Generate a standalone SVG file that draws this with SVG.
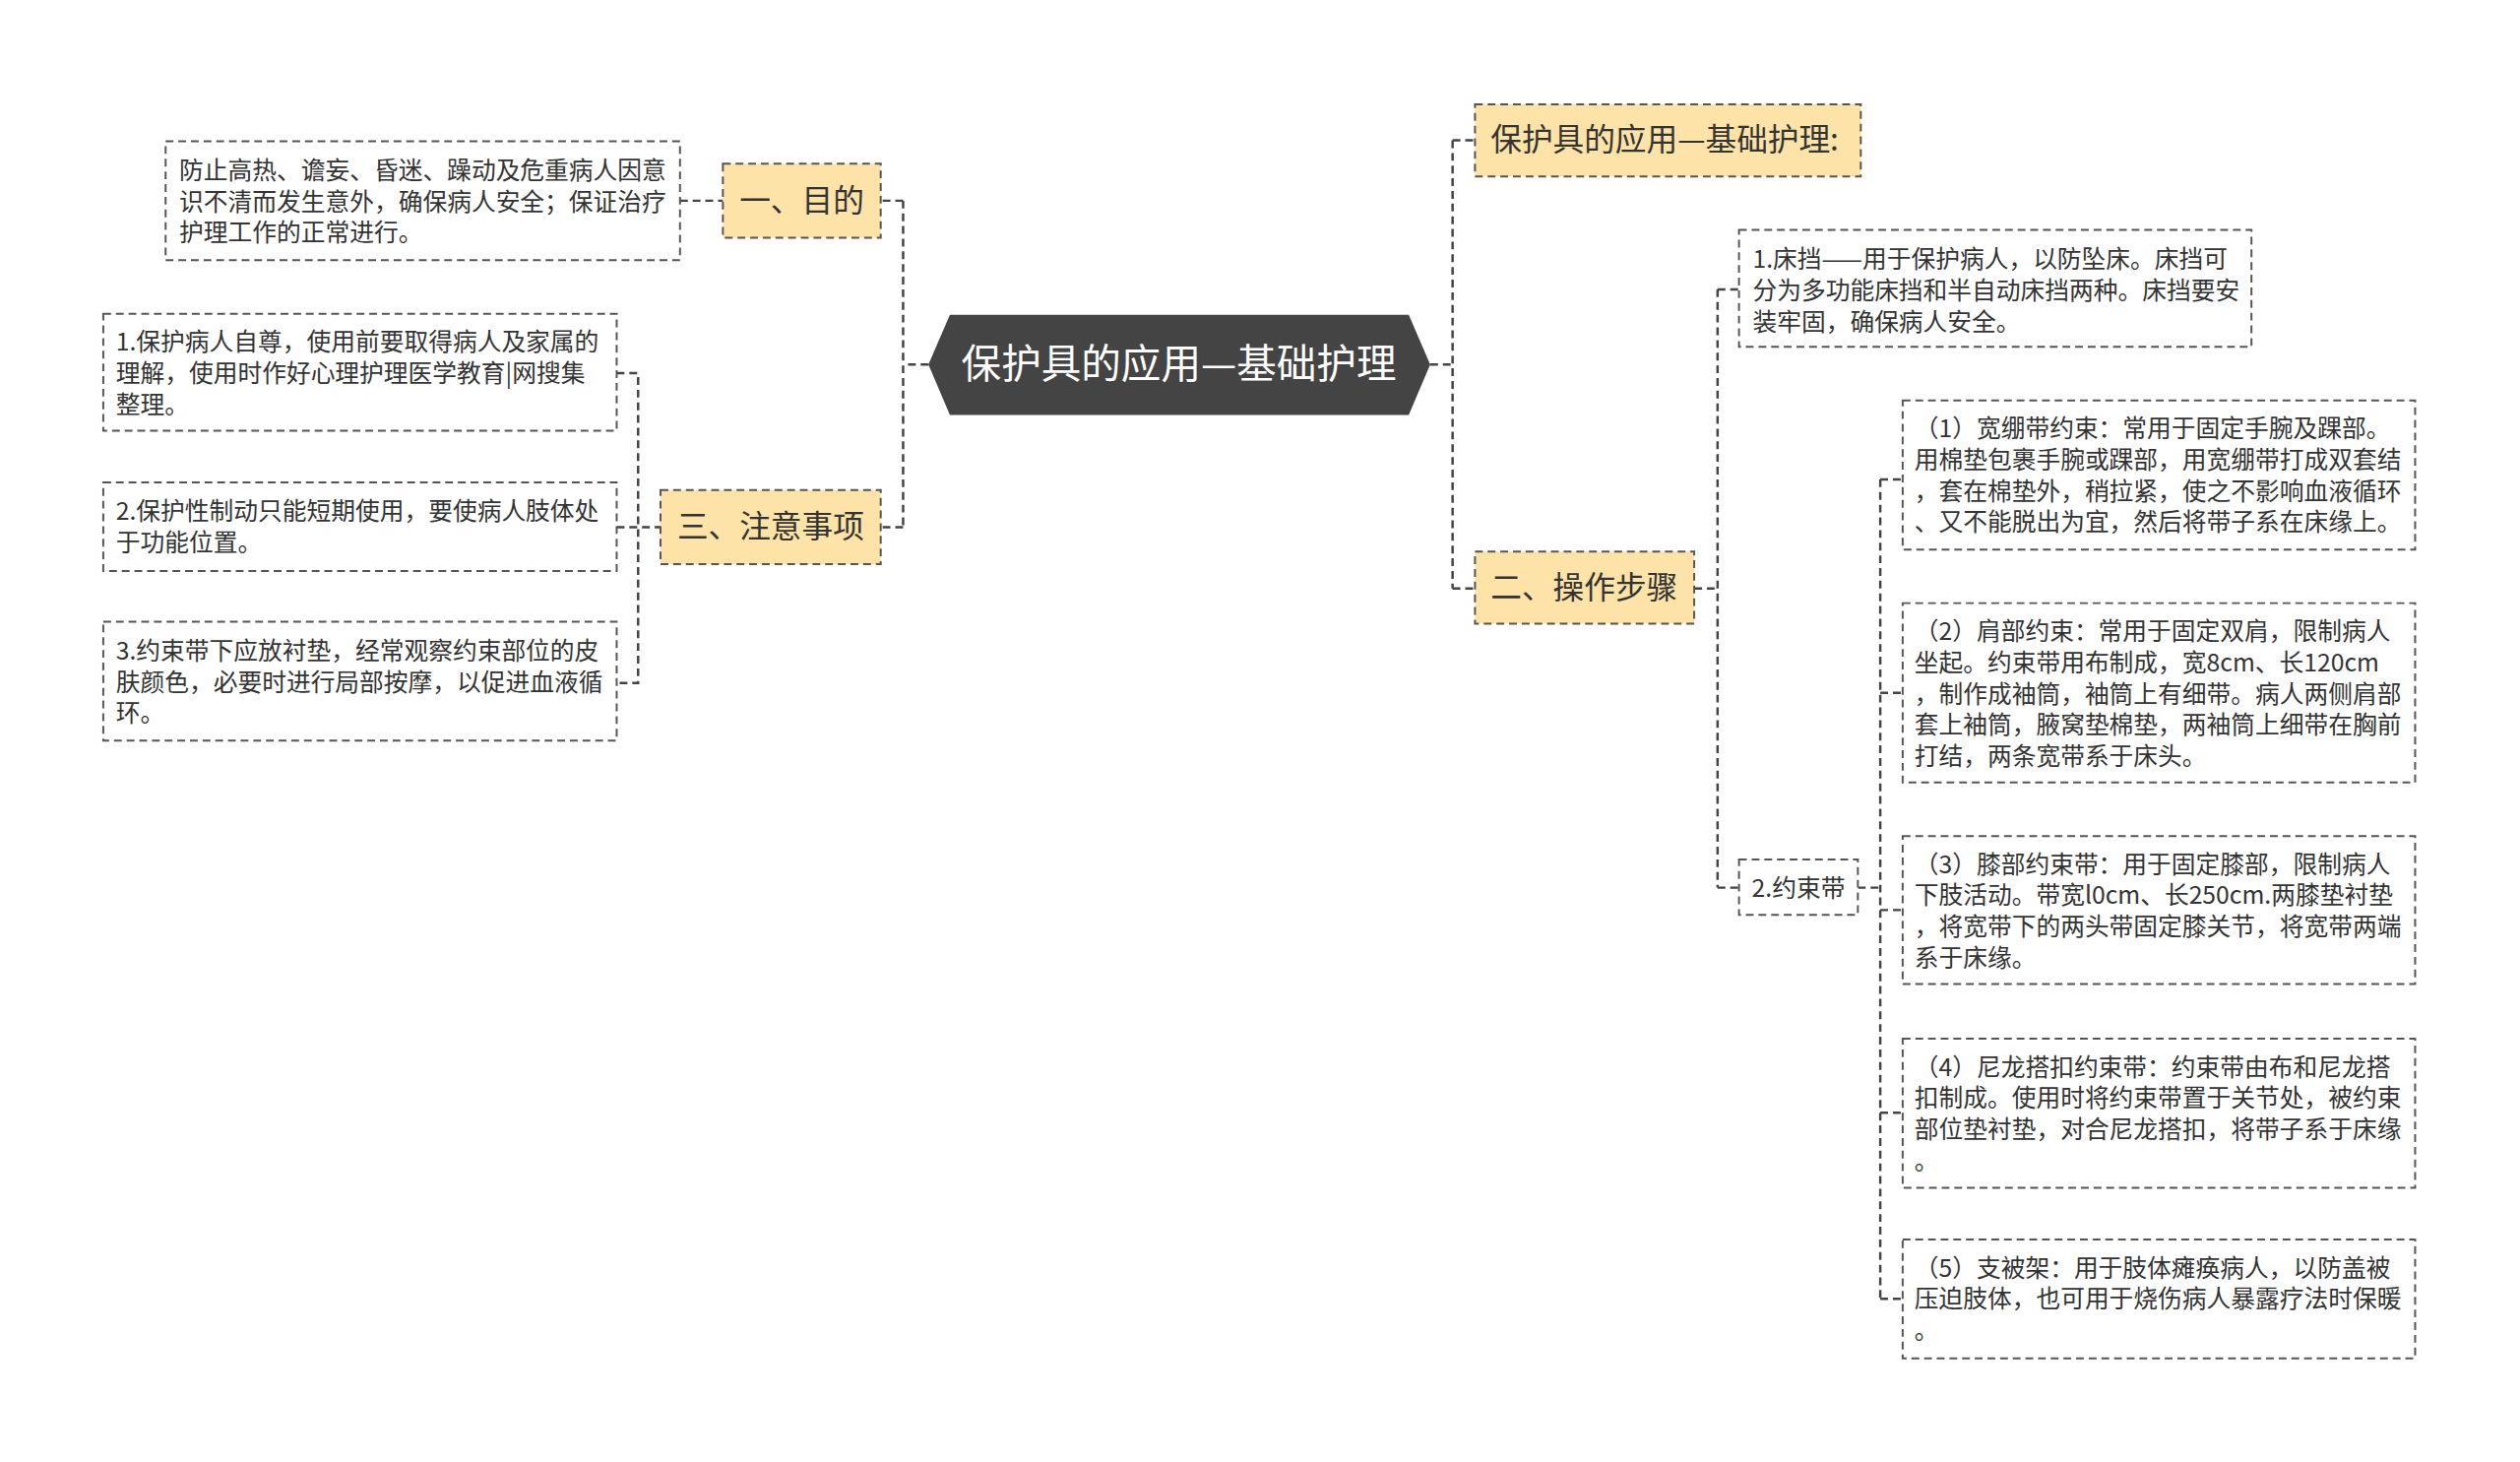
<svg xmlns="http://www.w3.org/2000/svg" width="2560" height="1485" viewBox="0 0 2560 1485">
<style>
text{font-family:"Noto Sans CJK SC","Noto Sans",sans-serif;fill:#333}
.box{fill:#fff;stroke:#555;stroke-width:2;stroke-dasharray:8 5}
.hl{fill:#fde3a7;stroke:#555;stroke-width:2;stroke-dasharray:8 5}
.t{font-size:25px}
.h{font-size:32px}
.c{fill:none;stroke:#444;stroke-width:2.5;stroke-dasharray:8 5}
</style>
<rect width="2560" height="1485" fill="#fff"/>
<g transform="scale(0.9897)">
<g id="connectors">
<path class="c" d="M953 374H927M927 206V541M927 206H904M927 541H904"/>
<path class="c" d="M698 206H742"/>
<path class="c" d="M633 383H655V701H633M633 541H678"/>
<path class="c" d="M1468 374H1491M1491 144V604M1491 144H1514M1491 604H1514"/>
<path class="c" d="M1739 604H1763M1763 297V911M1763 297H1785M1763 911H1785"/>
<path class="c" d="M1907 911H1930M1930 492V1333M1930 492H1953M1930 711H1953M1930 934H1953M1930 1142H1953M1930 1333H1953"/>
</g>
<g id="center"><polygon points="953,374 975,323 1446,323 1468,374 1446,426 975,426" fill="#444"/><text x="1210" y="388" text-anchor="middle" font-size="41" style="fill:#fff">保护具的应用—基础护理</text></g>
<g id="n-mudi"><rect class="hl" x="742" y="168" width="162" height="76"/><text class="h" x="823" y="217" text-anchor="middle">一、目的</text></g>
<g id="n-mudi-t"><rect class="box" x="170" y="145" width="528" height="122"/><text class="t" x="184" y="184">防止高热、谵妄、昏迷、躁动及危重病人因意</text><text class="t" x="184" y="216">识不清而发生意外，确保病人安全；保证治疗</text><text class="t" x="184" y="248">护理工作的正常进行。</text></g>
<g id="n-zhuyi"><rect class="hl" x="678" y="503" width="226" height="76"/><text class="h" x="791" y="552" text-anchor="middle">三、注意事项</text></g>
<g id="n-note1"><rect class="box" x="106" y="322" width="527" height="120"/><text class="t" x="119" y="360">1.保护病人自尊，使用前要取得病人及家属的</text><text class="t" x="119" y="392">理解，使用时作好心理护理医学教育|网搜集</text><text class="t" x="119" y="424">整理。</text></g>
<g id="n-note2"><rect class="box" x="106" y="495" width="527" height="91"/><text class="t" x="119" y="534">2.保护性制动只能短期使用，要使病人肢体处</text><text class="t" x="119" y="566">于功能位置。</text></g>
<g id="n-note3"><rect class="box" x="106" y="638" width="527" height="122"/><text class="t" x="119" y="677">3.约束带下应放衬垫，经常观察约束部位的皮</text><text class="t" x="119" y="709">肤颜色，必要时进行局部按摩，以促进血液循</text><text class="t" x="119" y="741">环。</text></g>
<g id="n-title"><rect class="hl" x="1514" y="107" width="396" height="74"/><text class="h" x="1530" y="155">保护具的应用—基础护理:</text></g>
<g id="n-buzhou"><rect class="hl" x="1514" y="566" width="225" height="74"/><text class="h" x="1626" y="614" text-anchor="middle">二、操作步骤</text></g>
<g id="n-chuangdang"><rect class="box" x="1785" y="236" width="526" height="120"/><text class="t" x="1799" y="275">1.床挡——用于保护病人，以防坠床。床挡可</text><text class="t" x="1799" y="307">分为多功能床挡和半自动床挡两种。床挡要安</text><text class="t" x="1799" y="339">装牢固，确保病人安全。</text></g>
<g id="n-yueshu"><rect class="box" x="1785" y="882" width="122" height="57"/><text class="t" x="1846" y="920" text-anchor="middle">2.约束带</text></g>
<g id="n-s1"><rect class="box" x="1953" y="411" width="526" height="153"/><text class="t" x="1965" y="449">（1）宽绷带约束：常用于固定手腕及踝部。</text><text class="t" x="1965" y="481">用棉垫包裹手腕或踝部，用宽绷带打成双套结</text><text class="t" x="1965" y="513">，套在棉垫外，稍拉紧，使之不影响血液循环</text><text class="t" x="1965" y="545">、又不能脱出为宜，然后将带子系在床缘上。</text></g>
<g id="n-s2"><rect class="box" x="1953" y="619" width="526" height="184"/><text class="t" x="1965" y="657">（2）肩部约束：常用于固定双肩，限制病人</text><text class="t" x="1965" y="689">坐起。约束带用布制成，宽8cm、长120cm</text><text class="t" x="1965" y="721">，制作成袖筒，袖筒上有细带。病人两侧肩部</text><text class="t" x="1965" y="753">套上袖筒，腋窝垫棉垫，两袖筒上细带在胸前</text><text class="t" x="1965" y="785">打结，两条宽带系于床头。</text></g>
<g id="n-s3"><rect class="box" x="1953" y="858" width="526" height="152"/><text class="t" x="1965" y="896">（3）膝部约束带：用于固定膝部，限制病人</text><text class="t" x="1965" y="928">下肢活动。带宽l0cm、长250cm.两膝垫衬垫</text><text class="t" x="1965" y="960">，将宽带下的两头带固定膝关节，将宽带两端</text><text class="t" x="1965" y="992">系于床缘。</text></g>
<g id="n-s4"><rect class="box" x="1953" y="1066" width="526" height="153"/><text class="t" x="1965" y="1104">（4）尼龙搭扣约束带：约束带由布和尼龙搭</text><text class="t" x="1965" y="1136">扣制成。使用时将约束带置于关节处，被约束</text><text class="t" x="1965" y="1168">部位垫衬垫，对合尼龙搭扣，将带子系于床缘</text><text class="t" x="1965" y="1200">。</text></g>
<g id="n-s5"><rect class="box" x="1953" y="1272" width="526" height="122"/><text class="t" x="1965" y="1310">（5）支被架：用于肢体瘫痪病人，以防盖被</text><text class="t" x="1965" y="1342">压迫肢体，也可用于烧伤病人暴露疗法时保暖</text><text class="t" x="1965" y="1374">。</text></g>
</g>
</svg>
